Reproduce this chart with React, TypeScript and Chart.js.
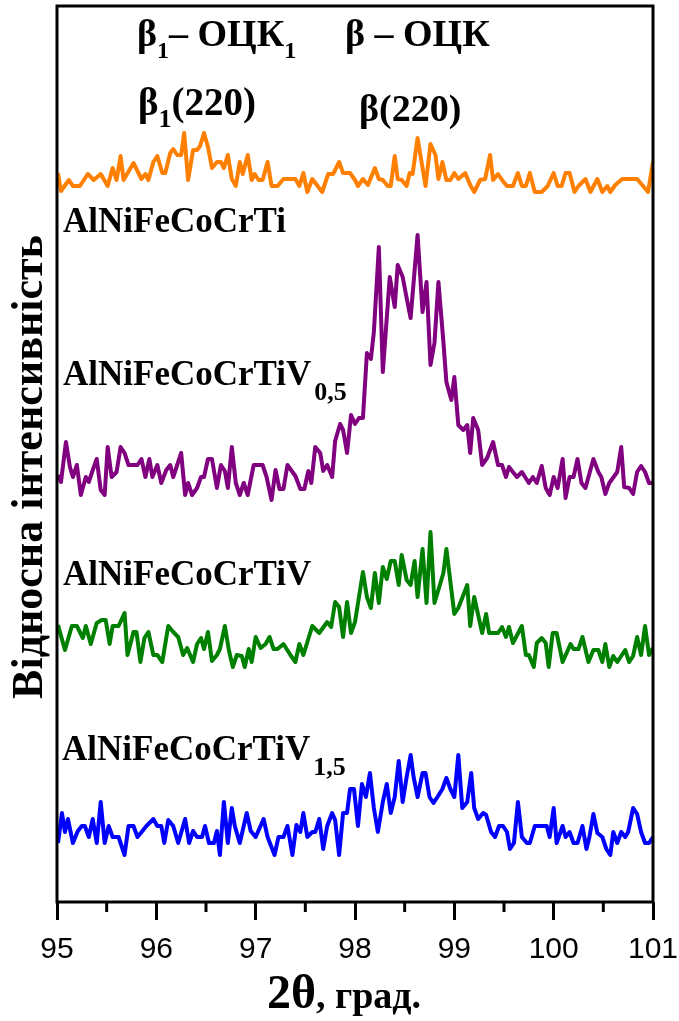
import { useEffect, useRef } from "react";
import { Chart, registerables } from "chart.js";

Chart.register(...registerables);

// ---------- data (2θ in degrees, relative intensity in a.u.) ----------
const xTicks = [95, 96, 97, 98, 99, 100, 101];
const minorTicks = [95.5, 96.5, 97.5, 98.5, 99.5, 100.5];

const tiPts: [number, number][] = [
  [95.01,729],[95.04,711],[95.12,722],[95.16,716],[95.23,716],[95.31,728],[95.37,722],[95.44,728],[95.51,716],[95.56,734],
  [95.60,722],[95.64,746],[95.67,722],[95.77,739],[95.85,723],[95.89,728],[95.92,722],[95.97,740],[96.01,746],[96.06,729],
  [96.09,729],[96.14,749],[96.17,753],[96.21,747],[96.25,747],[96.28,769],[96.32,722],[96.37,752],[96.41,752],[96.44,756],
  [96.48,769],[96.52,755],[96.56,734],[96.61,740],[96.65,740],[96.68,734],[96.72,747],[96.76,723],[96.80,716],[96.84,740],
  [96.87,728],[96.92,747],[96.96,722],[96.99,728],[97.03,722],[97.07,722],[97.12,740],[97.16,716],[97.22,716],[97.28,723],
  [97.40,723],[97.44,716],[97.48,729],[97.52,710],[97.57,723],[97.67,710],[97.73,728],[97.78,728],[97.84,740],[97.88,729],
  [97.95,729],[98.00,722],[98.03,716],[98.08,723],[98.13,717],[98.20,734],[98.24,723],[98.28,722],[98.33,716],[98.36,716],
  [98.40,746],[98.43,723],[98.47,722],[98.52,716],[98.55,729],[98.58,728],[98.63,764],[98.67,740],[98.71,716],[98.76,758],
  [98.81,747],[98.84,723],[98.88,740],[98.92,722],[98.96,722],[99.00,729],[99.04,723],[99.11,729],[99.16,717],[99.20,710],
  [99.26,722],[99.31,723],[99.36,747],[99.39,722],[99.44,728],[99.48,722],[99.53,716],[99.59,716],[99.64,729],[99.68,716],
  [99.72,716],[99.76,729],[99.81,710],[99.88,710],[99.94,716],[100.00,729],[100.04,716],[100.08,716],[100.12,729],[100.16,729],
  [100.21,710],[100.25,716],[100.32,723],[100.37,710],[100.44,723],[100.49,710],[100.54,716],[100.57,710],[100.62,717],[100.69,723],
  [100.84,723],[100.90,716],[100.95,710],[101.00,740],
];

const v05Pts: [number, number][] = [
  [95.01,427],[95.04,420],[95.09,460],[95.13,435],[95.16,425],[95.20,437],[95.24,407],[95.29,425],[95.32,420],[95.36,432],
  [95.40,443],[95.44,412],[95.48,407],[95.51,455],[95.55,425],[95.60,430],[95.64,455],[95.68,449],[95.72,437],[95.81,437],
  [95.85,443],[95.89,425],[95.93,443],[95.96,425],[96.01,437],[96.05,419],[96.10,432],[96.14,437],[96.17,425],[96.25,449],
  [96.29,407],[96.32,419],[96.36,407],[96.41,414],[96.45,425],[96.48,425],[96.52,443],[96.56,443],[96.61,414],[96.65,437],
  [96.69,431],[96.72,414],[96.76,455],[96.80,419],[96.84,407],[96.88,419],[96.92,407],[96.98,437],[97.07,437],[97.11,425],
  [97.16,402],[97.20,432],[97.24,413],[97.28,413],[97.32,437],[97.40,426],[97.45,413],[97.49,413],[97.53,431],[97.56,419],
  [97.60,455],[97.65,449],[97.68,431],[97.72,437],[97.77,425],[97.80,461],[97.85,478],[97.88,472],[97.92,449],[97.96,487],
  [98.00,478],[98.04,484],[98.08,484],[98.12,549],[98.16,543],[98.19,570],[98.24,655],[98.28,530],[98.35,625],[98.40,595],
  [98.43,637],[98.48,625],[98.52,604],[98.56,584],[98.63,667],[98.68,590],[98.72,620],[98.76,537],[98.80,559],[98.84,620],
  [98.89,560],[98.92,520],[98.97,502],[99.00,525],[99.04,477],[99.09,472],[99.13,477],[99.16,449],[99.19,484],[99.24,472],
  [99.28,437],[99.33,444],[99.39,460],[99.44,437],[99.48,437],[99.52,425],[99.55,435],[99.63,425],[99.68,430],[99.75,419],
  [99.79,425],[99.83,419],[99.88,436],[99.92,414],[99.96,407],[100.00,425],[100.04,414],[100.09,443],[100.12,404],[100.16,425],
  [100.20,425],[100.24,443],[100.28,419],[100.32,414],[100.40,443],[100.45,430],[100.48,425],[100.52,408],[100.56,419],[100.64,430],
  [100.68,455],[100.71,415],[100.76,414],[100.80,408],[100.84,430],[100.88,436],[100.92,430],[100.96,419],[101.00,419],
];

const v1Pts: [number, number][] = [
  [95.01,277],[95.08,252],[95.15,276],[95.20,276],[95.26,264],[95.29,276],[95.34,258],[95.40,279],[95.45,282],[95.49,282],
  [95.53,258],[95.56,276],[95.62,276],[95.68,289],[95.71,247],[95.77,270],[95.80,270],[95.84,240],[95.88,264],[95.92,270],
  [95.97,247],[96.01,247],[96.06,240],[96.12,276],[96.17,270],[96.22,265],[96.27,247],[96.31,254],[96.37,240],[96.41,258],
  [96.45,264],[96.48,253],[96.52,270],[96.56,241],[96.61,247],[96.64,253],[96.69,276],[96.73,252],[96.77,235],[96.81,247],
  [96.86,246],[96.89,235],[96.93,253],[96.96,240],[97.00,265],[97.05,254],[97.10,258],[97.14,265],[97.18,253],[97.22,253],
  [97.28,258],[97.35,247],[97.40,240],[97.44,258],[97.48,247],[97.57,276],[97.64,269],[97.72,280],[97.76,275],[97.80,300],
  [97.84,295],[97.88,265],[97.92,300],[97.96,269],[98.00,280],[98.08,330],[98.12,305],[98.16,294],[98.20,329],[98.24,299],
  [98.28,335],[98.32,323],[98.36,341],[98.40,341],[98.44,317],[98.47,347],[98.52,322],[98.56,317],[98.60,341],[98.63,305],
  [98.68,353],[98.72,299],[98.76,370],[98.80,299],[98.89,329],[98.92,353],[99.00,288],[99.04,294],[99.13,317],[99.16,276],
  [99.20,305],[99.28,269],[99.32,288],[99.35,269],[99.44,269],[99.48,275],[99.52,265],[99.55,275],[99.59,259],[99.68,276],
  [99.72,247],[99.75,247],[99.80,235],[99.83,259],[99.88,264],[99.92,259],[99.95,235],[99.99,269],[100.03,269],[100.09,240],
  [100.17,258],[100.20,253],[100.25,253],[100.29,265],[100.35,240],[100.40,252],[100.45,252],[100.49,240],[100.52,258],[100.56,235],
  [100.60,246],[100.64,240],[100.72,252],[100.76,240],[100.80,246],[100.84,265],[100.88,247],[100.92,276],[100.96,247],[101.00,254],
];

const v15Pts: [number, number][] = [
  [95.01,59],[95.05,89],[95.08,70],[95.11,83],[95.16,59],[95.21,71],[95.25,76],[95.28,76],[95.32,65],[95.36,83],
  [95.40,59],[95.44,100],[95.48,59],[95.52,76],[95.56,65],[95.62,65],[95.68,47],[95.72,76],[95.77,76],[95.81,65],
  [95.86,71],[95.90,76],[95.97,83],[96.01,76],[96.05,76],[96.08,59],[96.12,82],[96.17,76],[96.22,59],[96.29,83],
  [96.33,59],[96.37,71],[96.41,65],[96.46,65],[96.49,76],[96.53,59],[96.58,59],[96.61,71],[96.64,47],[96.68,100],
  [96.72,59],[96.76,94],[96.79,76],[96.84,59],[96.91,89],[96.95,71],[97.00,65],[97.08,83],[97.12,65],[97.19,47],
  [97.23,65],[97.28,65],[97.32,76],[97.37,47],[97.41,77],[97.45,70],[97.48,89],[97.52,65],[97.57,70],[97.60,70],
  [97.64,83],[97.68,53],[97.72,76],[97.77,89],[97.80,82],[97.84,47],[97.88,89],[97.92,89],[97.95,113],[97.99,113],
  [98.03,76],[98.07,118],[98.11,105],[98.15,129],[98.19,94],[98.23,70],[98.28,100],[98.32,118],[98.36,89],[98.40,105],
  [98.44,141],[98.48,100],[98.52,125],[98.56,147],[98.59,125],[98.63,105],[98.68,129],[98.71,129],[98.75,105],[98.79,99],
  [98.83,105],[98.88,113],[98.92,124],[98.96,113],[99.00,105],[99.04,147],[99.08,94],[99.13,100],[99.17,129],[99.20,94],
  [99.24,83],[99.29,89],[99.32,87],[99.37,70],[99.41,65],[99.45,76],[99.49,76],[99.53,70],[99.56,53],[99.60,59],
  [99.64,100],[99.68,65],[99.73,59],[99.76,59],[99.81,76],[99.93,76],[99.96,65],[100.00,94],[100.03,59],[100.09,76],
  [100.12,65],[100.16,70],[100.20,59],[100.24,59],[100.29,76],[100.33,53],[100.36,65],[100.40,88],[100.44,69],[100.49,65],
  [100.53,53],[100.57,47],[100.60,70],[100.64,59],[100.68,70],[100.72,65],[100.75,70],[100.80,94],[100.84,88],[100.88,70],
  [100.92,59],[100.96,59],[101.00,65],
];

const seriesNames = ["AlNiFeCoCrTi", "AlNiFeCoCrTiV0,5", "AlNiFeCoCrTiV", "AlNiFeCoCrTiV1,5"];
const seriesPts = [tiPts, v05Pts, v1Pts, v15Pts];
const seriesColors = ["#FF8000", "#800080", "#008000", "#0000FF"];

// ---------- text decorations ----------
type Part = { t: string; size: number; dy?: number; gap?: number };
type Rich = { x: number; y: number; parts: Part[] };

const SERIF = '"Liberation Serif", "Times New Roman", serif';

const annotations: Rich[] = [
  { x: 137, y: 46, parts: [{ t: "β", size: 38 }, { t: "1", size: 24, dy: 12 }, { t: "– ОЦК", size: 38 }, { t: "1", size: 24, dy: 12 }] },
  { x: 345, y: 46, parts: [{ t: "β – ОЦК", size: 38 }] },
  { x: 138, y: 115, parts: [{ t: "β", size: 39 }, { t: "1", size: 26, dy: 12 }, { t: "(220)", size: 39 }] },
  { x: 359, y: 121, parts: [{ t: "β(220)", size: 38 }] },
  { x: 63, y: 232, parts: [{ t: "AlNiFeCoCrTi", size: 35 }] },
  { x: 63, y: 385, parts: [{ t: "AlNiFeCoCrTiV", size: 35 }, { t: "0,5", size: 26, dy: 15, gap: 3 }] },
  { x: 63, y: 585, parts: [{ t: "AlNiFeCoCrTiV", size: 35 }] },
  { x: 62, y: 760, parts: [{ t: "AlNiFeCoCrTiV", size: 35 }, { t: "1,5", size: 26, dy: 15, gap: 3 }] },
];

function drawRich(ctx: CanvasRenderingContext2D, r: Rich, align: "left" | "center" = "left") {
  let total = 0;
  for (const p of r.parts) {
    ctx.font = `bold ${p.size}px ${SERIF}`;
    total += ctx.measureText(p.t).width + (p.gap || 0);
  }
  let cx = align === "center" ? r.x - total / 2 : r.x;
  for (const p of r.parts) {
    ctx.font = `bold ${p.size}px ${SERIF}`;
    cx += p.gap || 0;
    ctx.fillText(p.t, cx, r.y + (p.dy || 0));
    cx += ctx.measureText(p.t).width;
  }
}

const decorPlugin = {
  id: "decor",
  afterDraw(chart: any) {
    const { ctx, chartArea: a } = chart;
    const xs = chart.scales.x;
    ctx.save();
    ctx.strokeStyle = "#000";
    ctx.lineWidth = 3;
    ctx.strokeRect(a.left, a.top, a.right - a.left, a.bottom - a.top);
    ctx.beginPath();
    for (const v of minorTicks) {
      const px = xs.getPixelForValue(v);
      ctx.moveTo(px, a.bottom);
      ctx.lineTo(px, a.bottom + 10);
    }
    ctx.stroke();

    ctx.fillStyle = "#000";
    ctx.textAlign = "left";
    ctx.textBaseline = "alphabetic";
    for (const r of annotations) drawRich(ctx, r);

    // x axis title
    drawRich(ctx, { x: 344, y: 1008, parts: [{ t: "2θ", size: 48 }, { t: ", град.", size: 38 }] }, "center");

    // y axis title
    ctx.save();
    ctx.translate(42, 467);
    ctx.rotate(-Math.PI / 2);
    ctx.textAlign = "center";
    ctx.font = `bold 44px ${SERIF}`;
    ctx.fillText("Відносна інтенсивність", 0, 0);
    ctx.restore();
    ctx.restore();
  },
};

export default function App() {
  const ref = useRef<HTMLCanvasElement | null>(null);

  useEffect(() => {
    document.body.style.margin = "0";
    const canvas = ref.current;
    if (!canvas) return;
    const chart = new Chart(canvas, {
      type: "scatter",
      data: {
        datasets: seriesPts.map((pts, i) => ({
          label: seriesNames[i],
          data: pts.map(([x, y]) => ({ x, y })),
          showLine: true,
          borderColor: seriesColors[i],
          backgroundColor: seriesColors[i],
          borderWidth: 4,
          pointRadius: 0,
          borderJoinStyle: "round" as const,
          tension: 0,
          fill: false,
        })),
      },
      options: {
        animation: false,
        responsive: false,
        maintainAspectRatio: false,
        layout: { padding: { left: 57, top: 6, right: 26, bottom: 0 } },
        plugins: { legend: { display: false }, tooltip: { enabled: false } },
        scales: {
          x: {
            type: "linear",
            min: 95,
            max: 101,
            afterBuildTicks: (s: any) => {
              s.ticks = xTicks.map((v) => ({ value: v }));
            },
            ticks: {
              font: { family: '"Liberation Sans", Arial, sans-serif', size: 30 },
              color: "#000",
              padding: 12,
              maxRotation: 0,
              autoSkip: false,
            },
            grid: {
              display: true,
              drawOnChartArea: false,
              drawTicks: true,
              tickLength: 18,
              tickWidth: 3,
              tickColor: "#000",
              color: "#000",
              lineWidth: 3,
            },
            border: { display: false },
            afterFit: (s: any) => {
              s.height = 119;
              s.paddingLeft = 0;
              s.paddingRight = 0;
            },
          },
          y: { display: false, min: 0, max: 896 },
        },
      },
      plugins: [decorPlugin],
    });
    return () => chart.destroy();
  }, []);

  return <canvas ref={ref} width={679} height={1021} style={{ display: "block" }} />;
}
